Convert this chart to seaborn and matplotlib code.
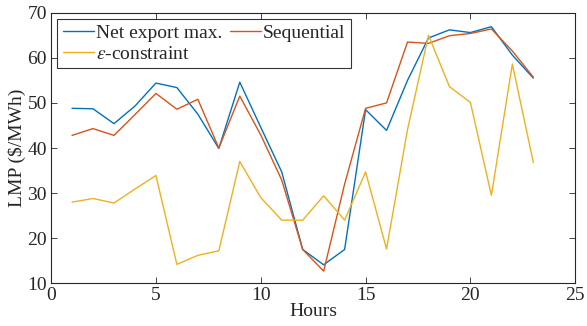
import pandas as pd
import numpy as np
import matplotlib
matplotlib.use("Agg")
import matplotlib.pyplot as plt
import seaborn as sns

# valores
horas = list(range(1, 24))
net_export = [48.8, 48.7, 45.4, 49.3, 54.4, 53.4, 47.5, 39.9, 54.6, 44.6, 34.7, 17.5,
              14.1, 17.5, 48.5, 43.9, 55.0, 64.4, 66.2, 65.6, 66.9, 60.6, 55.5]
secuencial = [42.8, 44.3, 42.8, 47.4, 52.1, 48.6, 50.8, 40.0, 51.5, 42.9, 32.9, 17.5,
              12.7, 32.0, 48.8, 50.0, 63.5, 63.2, 64.9, 65.4, 66.4, 61.5, 55.7]
eps_constraint = [28.0, 28.8, 27.8, 30.9, 33.9, 14.2, 16.2, 17.2, 37.0, 29.0, 24.0, 24.0,
                  29.4, 24.0, 34.7, 17.6, 44.1, 65.0, 53.6, 50.1, 29.5, 58.6, 36.8]
series = ["Net export max.", "Sequential", r"$\epsilon$-constraint"]
colores = ["#0072BD", "#D95319", "#EDB120"]

df = pd.DataFrame({
    "Hours": horas * 3,
    "LMP": net_export + secuencial + eps_constraint,
    "Serie": [series[0]] * 23 + [series[1]] * 23 + [series[2]] * 23,
})

sns.set_style("ticks")
plt.rcParams["font.family"] = ["Liberation Serif", "DejaVu Serif"]
plt.rcParams["mathtext.fontset"] = "stix"
plt.rcParams["font.size"] = 14

fig = plt.figure(figsize=(5.87, 3.26), dpi=100)
ax = fig.add_axes([0.087, 0.131, 0.893, 0.83])

sns.lineplot(data=df, x="Hours", y="LMP", hue="Serie", palette=colores,
             linewidth=1.0, ax=ax, legend=True)

ax.set_xlim(0, 25)
ax.set_ylim(10, 70)
ax.set_xticks([0, 5, 10, 15, 20, 25])
ax.set_yticks([10, 20, 30, 40, 50, 60, 70])
ax.set_xlabel("Hours", fontsize=14, labelpad=-1)
ax.set_ylabel("LMP (\\$/MWh)", fontsize=14, labelpad=1)
ax.tick_params(direction="in", top=True, right=True, length=4, width=0.6,
               labelsize=14, colors="#262626", pad=3)
for s in ax.spines.values():
    s.set_linewidth(0.8)
    s.set_color("#262626")

# orden por filas como en la leyenda original
handles, labels = ax.get_legend_handles_labels()
orden = [0, 2, 1]
leg = ax.legend([handles[i] for i in orden], [labels[i] for i in orden],
                loc="upper left", ncol=2, frameon=True, fancybox=False,
                fontsize=14, handlelength=1.6, handletextpad=0.1,
                columnspacing=0.4, borderpad=0.3, labelspacing=0.15,
                borderaxespad=0.3)
leg.get_frame().set_edgecolor("black")
leg.get_frame().set_linewidth(0.8)

fig.savefig("out.png", dpi=100)
